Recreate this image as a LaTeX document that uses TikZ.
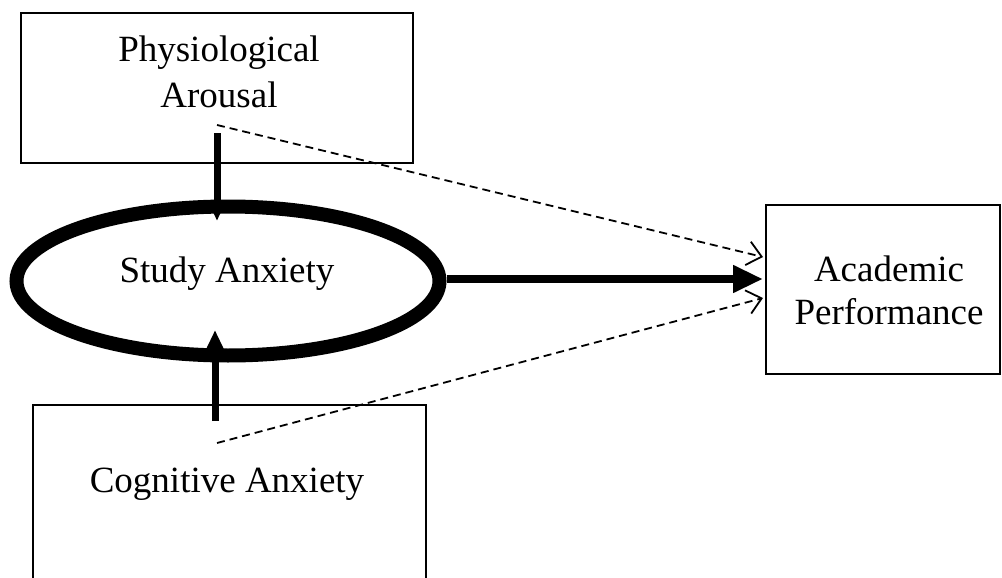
\documentclass[tikz,border=0pt]{standalone}
\usepackage{fontspec}
\setmainfont{Liberation Serif}
\usetikzlibrary{arrows.meta,shapes.geometric}
\begin{document}
\begin{tikzpicture}[x=1pt,y=-1pt,
  box/.style={draw, line width=2.4pt, inner sep=0pt, anchor=north west},
  oval/.style={draw, ellipse, line width=14pt, inner sep=0pt},
  lbl/.style={font=\fontsize{37}{46}\selectfont, align=center, inner sep=0pt, anchor=base},
  vthick/.style={line width=7pt},
  bigarrow/.style={line width=8pt, -{Triangle[length=30pt,width=26pt]}},
  dasharrow/.style={line width=1.8pt, dash pattern=on 8pt off 5pt, -{Straight Barb[length=14pt,width=24pt]}}]
\clip (0,0) rectangle (1002,578);
\fill[white] (0,0) rectangle (1002,578);
% boxes
\node[box, minimum width=392pt, minimum height=150pt] (phys) at (20,12) {};
\node[box, minimum width=393pt, minimum height=220pt] (cog) at (32,404) {};
\node[box, minimum width=234pt, minimum height=169pt] (acad) at (765,204) {};
\node[oval, minimum width=423pt, minimum height=149pt] (sa) at (228,281) {};
% labels
\node[lbl] (physlbl) at (219,107) {Physiological\\Arousal};
\node[lbl] (salbl) at (227,282) {Study Anxiety};
\node[lbl, font=\fontsize{37}{43}\selectfont] (acadlbl) at (889,324) {Academic\\Performance};
\node[lbl] (coglbl) at (227,492) {Cognitive Anxiety};
% connector coordinates
\coordinate (pa) at (217,133);
\coordinate (pb) at (217,221);
\coordinate (ca) at (215,421);
\coordinate (cb) at (215,330);
\coordinate (pd) at (217,125);
\coordinate (cd) at (217,443);
\coordinate (at) at (763,257);
\coordinate (am) at (763,279);
\coordinate (ab) at (763,298);
% connectors
\draw[vthick, -{Triangle[length=18pt,width=15pt]}] (pa) -- (pb);
\draw[vthick, -{Triangle[length=20pt,width=17pt]}] (ca) -- (cb);
\draw[bigarrow] (sa.east |- am) -- (am);
\draw[dasharrow] (pd) -- (at);
\draw[dasharrow] (cd) -- (ab);
\end{tikzpicture}
\end{document}
